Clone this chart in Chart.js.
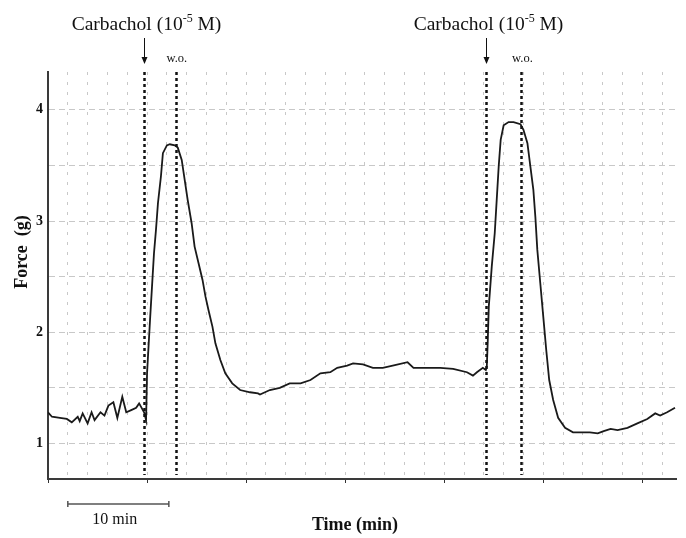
<!DOCTYPE html>
<html>
<head>
<meta charset="utf-8">
<script src="https://cdn.jsdelivr.net/npm/chart.js@4"></script>
<style>
  html, body { margin: 0; padding: 0; background: #fff; }
  #wrap { width: 686px; height: 538px; }
</style>
</head>
<body>
<div id="wrap"><canvas id="forceChart"></canvas></div>
<script>
// recording, time in minutes and force in grams
const timeMin = [0.0, 0.4, 1.2, 1.9, 2.4, 3.0, 3.2, 3.5, 4.0, 4.4, 4.7, 5.3, 5.7, 6.1, 6.6, 7.0, 7.5, 7.9, 8.4, 8.9, 9.2, 9.7, 9.9,
  10.0, 10.3, 10.5, 10.7, 10.9, 11.1, 11.4, 11.6, 12.0, 12.3, 12.8, 13.1, 13.5, 13.8, 14.1, 14.5, 14.8, 15.2, 15.6, 15.9, 16.2,
  16.6, 16.9, 17.4, 17.9, 18.6, 19.4, 20.4, 21.2, 21.4, 22.4, 23.4, 24.4, 25.5, 26.5, 27.5, 28.5, 29.2, 30.2, 30.8, 31.8, 32.8,
  33.8, 34.8, 36.3, 36.9, 38.3, 39.6, 40.9, 42.3, 42.9, 43.3, 43.9, 44.2, 44.3, 44.4, 44.5, 44.8, 45.1, 45.3, 45.5, 45.7, 46.0,
  46.5, 47.0, 47.7, 48.0, 48.4, 48.7, 49.0, 49.2, 49.4, 49.7, 50.0, 50.3, 50.6, 51.0, 51.5, 52.2, 53.0, 54.0, 54.7, 55.5, 56.1,
  56.8, 57.5, 58.5, 59.5, 60.5, 61.3, 61.8, 62.5, 63.3];
const forceG = [1.28, 1.24, 1.23, 1.22, 1.19, 1.24, 1.20, 1.27, 1.18, 1.28, 1.21, 1.28, 1.25, 1.34, 1.37, 1.23, 1.42, 1.28, 1.30, 1.32, 1.36, 1.28, 1.21,
  1.63, 2.11, 2.41, 2.71, 2.92, 3.16, 3.40, 3.61, 3.68, 3.69, 3.68, 3.66, 3.55, 3.37, 3.19, 2.98, 2.77, 2.62, 2.47, 2.32, 2.20,
  2.05, 1.90, 1.75, 1.63, 1.54, 1.48, 1.46, 1.45, 1.44, 1.48, 1.50, 1.54, 1.54, 1.57, 1.63, 1.64, 1.68, 1.70, 1.72, 1.71, 1.68,
  1.68, 1.70, 1.73, 1.68, 1.68, 1.68, 1.67, 1.64, 1.61, 1.64, 1.68, 1.66, 1.69, 1.93, 2.23, 2.59, 2.89, 3.19, 3.49, 3.73, 3.86,
  3.89, 3.89, 3.87, 3.82, 3.70, 3.49, 3.28, 3.04, 2.74, 2.44, 2.14, 1.84, 1.57, 1.39, 1.23, 1.14, 1.10, 1.10, 1.10, 1.09, 1.11,
  1.13, 1.12, 1.14, 1.18, 1.22, 1.27, 1.25, 1.28, 1.32];

const carbacholTimes = [9.7, 44.2];
const washoutTimes = [12.9, 47.8];
const yTickValues = [1, 1.5, 2, 2.5, 3, 3.5, 4];
const xGridValues = [0, 2, 4, 6, 8, 10, 12, 14, 16, 18, 20, 22, 24, 26, 28, 30, 32, 34, 36, 38, 40, 42, 44, 46, 48, 50, 52, 54, 56, 58, 60, 62];

const serif = '"Liberation Serif", "Times New Roman", serif';

const annotations = {
  id: 'annotations',
  afterDraw(chart) {
    const ctx = chart.ctx;
    const x = chart.scales.x;
    const area = chart.chartArea;
    ctx.save();

    // dotted marker lines
    ctx.strokeStyle = '#111';
    ctx.lineWidth = 2.5;
    ctx.setLineDash([3, 3]);
    carbacholTimes.concat(washoutTimes).forEach(t => {
      const px = Math.round(x.getPixelForValue(t)) + 0.5;
      ctx.beginPath();
      ctx.moveTo(px, area.top);
      ctx.lineTo(px, area.bottom - 4);
      ctx.stroke();
    });
    ctx.setLineDash([]);

    // carbachol labels + arrows
    carbacholTimes.forEach(t => {
      const px = Math.round(x.getPixelForValue(t)) + 0.5;
      ctx.strokeStyle = '#111';
      ctx.fillStyle = '#111';
      ctx.lineWidth = 1;
      ctx.beginPath();
      ctx.moveTo(px, 38);
      ctx.lineTo(px, 60);
      ctx.stroke();
      ctx.beginPath();
      ctx.moveTo(px - 3, 57);
      ctx.lineTo(px + 3, 57);
      ctx.lineTo(px, 64);
      ctx.closePath();
      ctx.fill();

      const a = 'Carbachol (10', s = '-5', b = ' M)';
      ctx.font = '19.5px ' + serif;
      const wa = ctx.measureText(a).width, wb = ctx.measureText(b).width;
      ctx.font = '12px ' + serif;
      const ws = ctx.measureText(s).width;
      let sx = px + 2 - (wa + ws + wb) / 2;
      ctx.textBaseline = 'alphabetic';
      ctx.textAlign = 'left';
      ctx.font = '19.5px ' + serif;
      ctx.fillText(a, sx, 30);
      ctx.font = '12px ' + serif;
      ctx.fillText(s, sx + wa, 22);
      ctx.font = '19.5px ' + serif;
      ctx.fillText(b, sx + wa + ws, 30);
    });

    // washout labels
    ctx.font = '12.5px ' + serif;
    ctx.textAlign = 'center';
    ctx.textBaseline = 'alphabetic';
    washoutTimes.forEach(t => {
      ctx.fillText('w.o.', x.getPixelForValue(t) + 1, 62);
    });

    // axis titles
    ctx.font = 'bold 18px ' + serif;
    ctx.textAlign = 'center';
    ctx.textBaseline = 'middle';
    ctx.fillText('Time (min)', 355, 525);
    ctx.save();
    ctx.translate(22, 252);
    ctx.rotate(-Math.PI / 2);
    ctx.font = 'bold 18px ' + serif;
    ctx.fillText('Force  (g)', 0, 0);
    ctx.restore();

    // 10 min scale bar
    const x0 = x.getPixelForValue(2), x1 = x.getPixelForValue(12.2);
    ctx.strokeStyle = '#555';
    ctx.lineWidth = 1.5;
    ctx.beginPath();
    ctx.moveTo(x0, 504); ctx.lineTo(x1, 504);
    ctx.moveTo(x0, 501); ctx.lineTo(x0, 507);
    ctx.moveTo(x1, 501); ctx.lineTo(x1, 507);
    ctx.stroke();
    ctx.font = '16px ' + serif;
    ctx.fillStyle = '#111';
    ctx.fillText('10 min', x0 + 47, 520);

    ctx.restore();
  }
};

new Chart(document.getElementById('forceChart'), {
  type: 'line',
  data: {
    labels: timeMin,
    datasets: [{
      data: timeMin.map((t, i) => ({ x: t, y: forceG[i] })),
      borderColor: '#1a1a1a',
      borderWidth: 1.8,
      pointRadius: 0,
      tension: 0,
      fill: false
    }]
  },
  options: {
    responsive: true,
    maintainAspectRatio: false,
    animation: false,
    layout: { padding: { left: 0, top: 72, right: 10, bottom: 53 } },
    plugins: { legend: { display: false }, tooltip: { enabled: false } },
    scales: {
      x: {
        type: 'linear',
        min: 0,
        max: 63.4,
        afterBuildTicks: s => { s.ticks = xGridValues.map(v => ({ value: v })); },
        afterFit: s => { s.height = 6; },
        ticks: { display: false },
        grid: {
          color: '#c8c8c8',
          lineWidth: 1,
          tickLength: 4,
          tickColor: c => (c.tick && c.tick.value % 10 === 0) ? '#333' : 'rgba(0,0,0,0)'
        },
        border: { display: true, color: '#3a3a3a', width: 2, dash: [3, 7] }
      },
      y: {
        min: 0.68,
        max: 4.34,
        afterBuildTicks: s => { s.ticks = yTickValues.map(v => ({ value: v })); },
        afterFit: s => { s.width = 48; },
        ticks: {
          padding: 5,
          color: '#111',
          font: { family: serif, size: 14, weight: 'bold' },
          callback: v => Number.isInteger(v) ? String(v) : ''
        },
        grid: { color: '#c8c8c8', lineWidth: 1, drawTicks: false },
        border: { display: true, color: '#3a3a3a', width: 2, dash: [6, 4] }
      }
    }
  },
  plugins: [annotations]
});
</script>
</body>
</html>
